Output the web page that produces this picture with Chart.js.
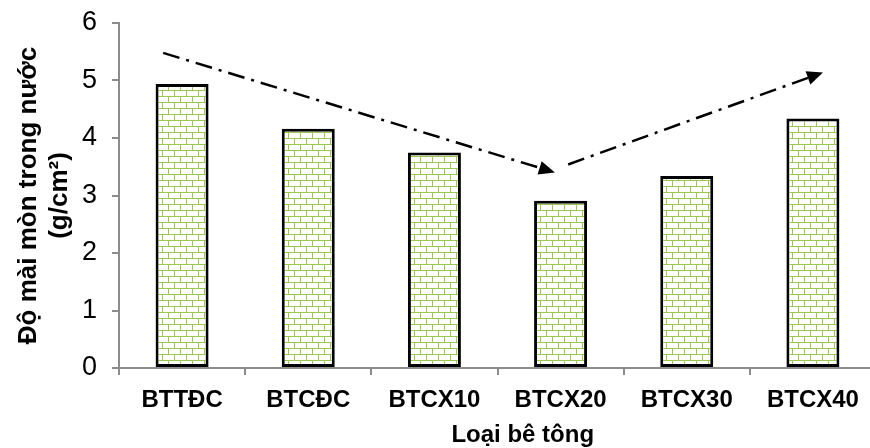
<!DOCTYPE html>
<html>
<head>
<meta charset="utf-8">
<script src="https://cdn.jsdelivr.net/npm/chart.js@4/dist/chart.umd.min.js"></script>
<style>
  html, body { margin: 0; padding: 0; background: #fff; overflow: hidden; }
  canvas { display: block; }
</style>
</head>
<body>
<canvas id="wearChart" width="880" height="448"></canvas>
<script>
const categories = ['BTTĐC', 'BTCĐC', 'BTCX10', 'BTCX20', 'BTCX30', 'BTCX40'];
const wearValues = [4.94, 4.16, 3.75, 2.91, 3.34, 4.34];
const yMin = 0, yMax = 6, yStep = 1;
const yTitle = ['Độ mài mòn trong nước', '(g/cm²)'];
const xTitle = 'Loại bê tông';
// trend arrows: [category index, value] for start and tip
const trendDown = [[-0.15, 5.48], [2.955, 3.40]];
const trendUp = [[3.06, 3.54], [5.08, 5.14]];

const axisColor = '#8c8c8c';

function brickPattern() {
	const c = document.createElement('canvas');
	c.width = 12;
	c.height = 12;
	const g = c.getContext('2d');
	g.fillStyle = '#ffffff';
	g.fillRect(0, 0, 12, 12);
	g.strokeStyle = '#9cc850';
	g.lineWidth = 1;
	g.beginPath();
	g.moveTo(0, 0.5); g.lineTo(12, 0.5);
	g.moveTo(0, 6.5); g.lineTo(12, 6.5);
	g.moveTo(0.5, 0); g.lineTo(0.5, 6);
	g.moveTo(6.5, 6); g.lineTo(6.5, 12);
	g.stroke();
	return g.createPattern(c, 'repeat');
}

const ctx = document.getElementById('wearChart').getContext('2d');

const trendPlugin = {
	id: 'trendArrows',
	afterDatasetsDraw(chart) {
		const {ctx, scales: {x, y}} = chart;
		[trendDown, trendUp].forEach(seg => {
			const x0 = x.getPixelForValue(seg[0][0]), y0 = y.getPixelForValue(seg[0][1]);
			const x1 = x.getPixelForValue(seg[1][0]), y1 = y.getPixelForValue(seg[1][1]);
			const ang = Math.atan2(y1 - y0, x1 - x0);
			const headLen = 16, headW = 7;
			const bx = x1 - headLen * Math.cos(ang), by = y1 - headLen * Math.sin(ang);
			ctx.save();
			ctx.strokeStyle = '#000';
			ctx.lineWidth = 2.5;
			ctx.setLineDash([17, 7, 3, 7]);
			ctx.beginPath();
			ctx.moveTo(x0, y0);
			ctx.lineTo(bx, by);
			ctx.stroke();
			ctx.setLineDash([]);
			ctx.fillStyle = '#000';
			ctx.beginPath();
			ctx.moveTo(x1, y1);
			ctx.lineTo(bx + headW * Math.sin(ang), by - headW * Math.cos(ang));
			ctx.lineTo(bx - headW * Math.sin(ang), by + headW * Math.cos(ang));
			ctx.closePath();
			ctx.fill();
			ctx.restore();
		});
	},
	afterDraw(chart) {
		// x axis title, sits a bit right of the plot centre like in the original
		const {ctx, scales: {x}} = chart;
		ctx.save();
		ctx.font = 'bold 24px "Liberation Sans", Arial, sans-serif';
		ctx.fillStyle = '#000';
		ctx.textAlign = 'center';
		ctx.textBaseline = 'alphabetic';
		ctx.fillText(xTitle, x.getPixelForValue(2.7), 442);
		ctx.restore();
	}
};

new Chart(ctx, {
	type: 'bar',
	data: {
		labels: categories,
		datasets: [{
			data: wearValues,
			backgroundColor: brickPattern(),
			borderColor: '#000',
			borderWidth: 3,
			borderSkipped: false,
			barPercentage: 0.42,
			categoryPercentage: 1
		}]
	},
	options: {
		responsive: false,
		animation: false,
		devicePixelRatio: 1,
		layout: { padding: { top: 23, right: 4, left: 0, bottom: 0 } },
		plugins: {
			legend: { display: false },
			tooltip: { enabled: false }
		},
		scales: {
			x: {
				grid: { display: true, drawOnChartArea: false, offset: true, tickLength: 7, color: axisColor, lineWidth: 2 },
				border: { color: axisColor, width: 2 },
				ticks: {
					color: '#000',
					padding: 11,
					maxRotation: 0,
					font: { family: '"Liberation Sans", Arial, sans-serif', size: 24, weight: 'bold' }
				},
				afterFit: (scale) => { scale.height = 80; }
			},
			y: {
				min: yMin,
				max: yMax,
				grid: { display: true, drawOnChartArea: false, tickLength: 7, color: axisColor, lineWidth: 2 },
				border: { color: axisColor, width: 2 },
				ticks: {
					stepSize: yStep,
					color: '#000',
					padding: 15,
					font: { family: '"Liberation Sans", Arial, sans-serif', size: 27 }
				},
				title: {
					display: true,
					text: yTitle,
					color: '#000',
					padding: { top: 13, bottom: 0 },
					font: { family: '"Liberation Sans", Arial, sans-serif', size: 26, weight: 'bold', lineHeight: 1.2 }
				},
				afterFit: (scale) => {
					scale.width = 119;
					scale.paddingTop = 0;
					scale.paddingBottom = 0;
				}
			}
		}
	},
	plugins: [trendPlugin]
});
</script>
</body>
</html>
